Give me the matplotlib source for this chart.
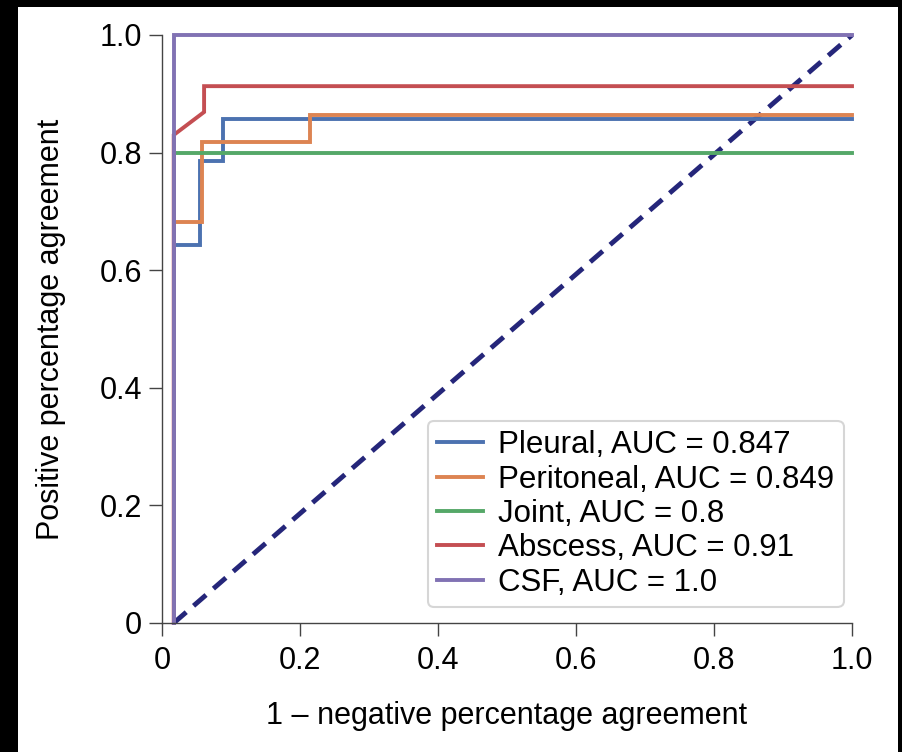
import matplotlib

matplotlib.use("Agg")
import matplotlib.pyplot as plt
from matplotlib.patches import Rectangle

plt.rcParams["font.family"] = ["Liberation Sans", "DejaVu Sans"]

# ROC-style step curves (x = 1 - NPA, y = PPA)
PLEURAL_X = [0.017, 0.017, 0.055, 0.055, 0.088, 0.088, 1.0]
PLEURAL_Y = [0.0, 0.643, 0.643, 0.786, 0.786, 0.857, 0.857]
PERITONEAL_X = [0.017, 0.017, 0.058, 0.058, 0.215, 0.215, 1.0]
PERITONEAL_Y = [0.0, 0.682, 0.682, 0.818, 0.818, 0.864, 0.864]
JOINT_X = [0.017, 0.017, 1.0]
JOINT_Y = [0.0, 0.8, 0.8]
ABSCESS_X = [0.017, 0.017, 0.061, 0.061, 1.0]
ABSCESS_Y = [0.0, 0.83, 0.869, 0.913, 0.913]
CSF_X = [0.017, 0.017, 1.0]
CSF_Y = [0.0, 1.0, 1.0]
CHANCE_X = [0.017, 1.0]
CHANCE_Y = [0.0, 1.0]

LABELS = [
    "Pleural, AUC = 0.847",
    "Peritoneal, AUC = 0.849",
    "Joint, AUC = 0.8",
    "Abscess, AUC = 0.91",
    "CSF, AUC = 1.0",
]
COLORS = ["#4C72B0", "#DD8452", "#55A868", "#C44E52", "#8172B3"]
TICKS = [0, 0.2, 0.4, 0.6, 0.8, 1.0]
TICK_LABELS = ["0", "0.2", "0.4", "0.6", "0.8", "1.0"]

fig = plt.figure(figsize=(9.03, 7.52), dpi=100, facecolor="black")
fig.patches.append(
    Rectangle((18 / 903, 0), 880 / 903, 745 / 752, transform=fig.transFigure,
              facecolor="white", edgecolor="none", zorder=-10)
)
ax = fig.add_axes([162 / 903, 129 / 752, 690 / 903, 588 / 752])
ax.set_facecolor("white")

series = [
    (PLEURAL_X, PLEURAL_Y),
    (PERITONEAL_X, PERITONEAL_Y),
    (JOINT_X, JOINT_Y),
    (ABSCESS_X, ABSCESS_Y),
    (CSF_X, CSF_Y),
]
for (xs, ys), lab, col in zip(series, LABELS, COLORS):
    ax.plot(xs, ys, color=col, lw=2.8, label=lab, clip_on=False,
            solid_joinstyle="miter")

ax.plot(CHANCE_X, CHANCE_Y, color="#25267a", lw=3.5, ls=(0, (3.4, 2.0)),
        clip_on=False, zorder=1)

ax.set_xlim(0, 1)
ax.set_ylim(0, 1)
ax.set_xticks(TICKS)
ax.set_xticklabels(TICK_LABELS)
ax.set_yticks(TICKS)
ax.set_yticklabels(TICK_LABELS)
for s in ("top", "right"):
    ax.spines[s].set_visible(False)
for s in ("left", "bottom"):
    ax.spines[s].set_color("#444444")
    ax.spines[s].set_linewidth(1.0)
ax.tick_params(direction="out", length=9.5, width=1.0, color="#444444",
               labelsize=22, pad=5)
ax.tick_params(axis="x", pad=7)

ax.set_xlabel("1 \u2013 negative percentage agreement", fontsize=22, labelpad=18)
ax.set_ylabel("Positive percentage agreement", fontsize=22, labelpad=24)

leg = ax.legend(loc="lower right", bbox_to_anchor=(0.988, 0.027), borderaxespad=0,
                fontsize=22.5, handlelength=1.45, handletextpad=0.5,
                labelspacing=0.14, borderpad=0.3, frameon=True, fancybox=True)
leg.get_frame().set_edgecolor("#cccccc")
leg.get_frame().set_linewidth(1.5)

fig.savefig("out.png", dpi=100, facecolor=fig.get_facecolor())
